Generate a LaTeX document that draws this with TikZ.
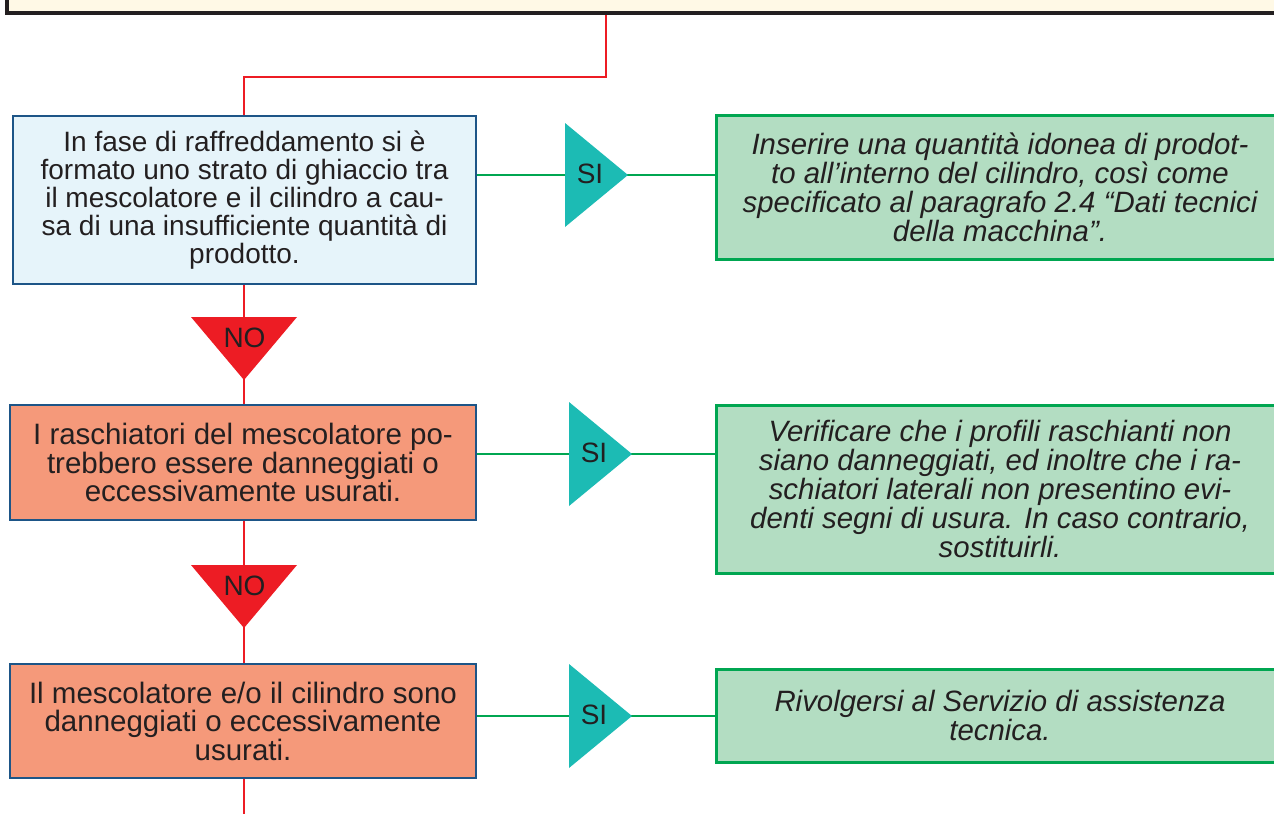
\documentclass[tikz,border=0pt]{standalone}
\usepackage{fontspec}
\setmainfont{Liberation Sans}
\definecolor{txt}{HTML}{231F20}
\definecolor{topfill}{HTML}{FFF9E6}
\definecolor{bluefill}{HTML}{E6F4FA}
\definecolor{blueline}{HTML}{1D5587}
\definecolor{salmon}{HTML}{F5997A}
\definecolor{greenfill}{HTML}{B3DDC2}
\definecolor{greenline}{HTML}{00A651}
\definecolor{tealfill}{HTML}{1CBBB4}
\definecolor{redc}{HTML}{ED1C24}
\tikzset{
  qbox/.style={draw=blueline,line width=2.5pt,inner sep=0pt,align=center,text=txt,
    font=\fontsize{29.5}{28.5}\selectfont},
  abox/.style={draw=greenline,fill=greenfill,line width=3pt,inner sep=0pt,align=center,text=txt,
    font=\fontsize{29.4}{29}\itshape\selectfont},
  redline/.style={draw=redc,line width=2.7pt},
  grnline/.style={draw=greenline,line width=2.5pt},
  silabel/.style={text=txt,font=\fontsize{28}{28}\selectfont,inner sep=0pt},
}
\begin{document}
\begin{tikzpicture}[x=1pt,y=-1pt]
\useasboundingbox (0,0) rectangle (1274,814);
\clip (0,0) rectangle (1274,814);
\node[draw=txt,fill=topfill,line width=4pt,minimum width=1290pt,minimum height=44pt,inner sep=0pt] (top) at (652,-9) {};

\node[qbox,fill=bluefill,minimum width=463pt,minimum height=168pt,font=\fontsize{28}{28}\selectfont] (b1) at (244.5,200)
 {In fase di raffreddamento si è\\formato uno strato di ghiaccio tra\\il mescolatore e il cilindro a cau-\\sa di una insufficiente quantità di\\prodotto.};
\node[qbox,fill=salmon,minimum width=466pt,minimum height=115pt] (b2) at (243,462.5)
 {I raschiatori del mescolatore po-\\trebbero essere danneggiati o\\eccessivamente usurati.};
\node[qbox,fill=salmon,minimum width=466pt,minimum height=114pt] (b3) at (243,721)
 {Il mescolatore e/o il cilindro sono\\danneggiati o eccessivamente\\usurati.};

\node[abox,minimum width=568pt,minimum height=144pt] (g1) at (1000,187)
 {Inserire una quantità idonea di prodot-\\to all’interno del cilindro, così come\\specificato al paragrafo 2.4 “Dati tecnici\\della macchina”.};
\node[abox,minimum width=568pt,minimum height=168pt] (g2) at (1000,489)
 {Verificare che i profili raschianti non\\siano danneggiati, ed inoltre che i ra-\\schiatori laterali non presentino evi-\\denti segni di usura. In caso contrario,\\sostituirli.};
\node[abox,minimum width=568pt,minimum height=93pt] (g3) at (1000,715.5)
 {Rivolgersi al Servizio di assistenza\\tecnica.};

% reference points
\coordinate (t1) at (606,77);
\coordinate (n1) at (244,380);
\coordinate (n2) at (244,628);
\coordinate (bend) at (244,814);
\coordinate (s1) at (628,175);
\coordinate (s2) at (632,454);
\coordinate (s3) at (632,716);

% red connectors
\draw[redline] (top.south -| t1) -- (t1) -| (b1.north -| n1);
\draw[redline] (b1.south -| n1) -- (b2.north -| n1);
\draw[redline] (b2.south -| n1) -- (b3.north -| n1);
\draw[redline] (b3.south -| n1) -- (bend);

% green connectors
\draw[grnline] (b1.east |- s1) -- (g1.west |- s1);
\draw[grnline] (b2.east |- s2) -- (g2.west |- s2);
\draw[grnline] (b3.east |- s3) -- (g3.west |- s3);

% SI triangles
\foreach \s in {s1,s2,s3}{
  \fill[tealfill] (\s) -- ++(-63,-52) -- ++(0,104) -- cycle;
}
\node[silabel] (si1) at (590,174) {SI};
\node[silabel] (si2) at (594,453) {SI};
\node[silabel] (si3) at (594,715) {SI};

% NO triangles
\foreach \n in {n1,n2}{
  \fill[redc] (\n) -- ++(-53,-63) -- ++(106,0) -- cycle;
}
\node[silabel] (no1) at (244.5,338) {NO};
\node[silabel] (no2) at (244.5,586) {NO};
\end{tikzpicture}
\end{document}
